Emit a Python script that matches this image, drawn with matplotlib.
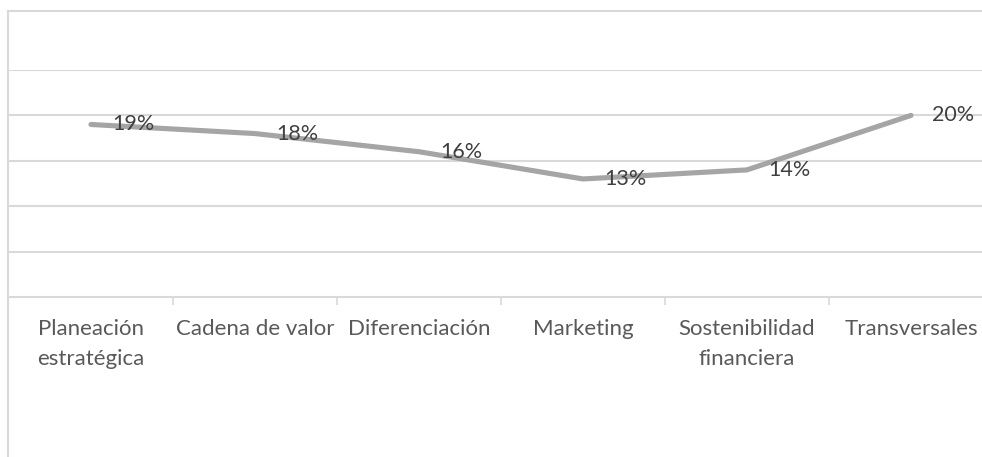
import matplotlib.pyplot as plt
from matplotlib.lines import Line2D

categories = ['Planeación\nestratégica', 'Cadena de valor', 'Diferenciación',
              'Marketing', 'Sostenibilidad\nfinanciera', 'Transversales']
values = [0.19, 0.18, 0.16, 0.13, 0.14, 0.20]
labels = ['19%', '18%', '16%', '13%', '14%', '20%']

W, H = 982, 457
fig = plt.figure(figsize=(W / 100, H / 100), dpi=100)
plt.rcParams['font.family'] = ['Lato', 'DejaVu Sans']

# plot area runs past the right edge of the picture (cropped chart)
x0, x1 = 9, 993
y_top, y_bot = 70, 297
ax = fig.add_axes([x0 / W, 1 - y_bot / H, (x1 - x0) / W, (y_bot - y_top) / H])

xs = list(range(len(categories)))
ax.plot(xs, values, color='#a5a5a5', lw=3.7, solid_capstyle='round', zorder=3)
for x, v, t in zip(xs, values, labels):
    ax.annotate(t, (x, v), xytext=(15, 0), textcoords='offset points',
                ha='left', va='center', fontsize=15.5, color='#404040', zorder=4)

ax.set_xlim(-0.5, len(categories) - 0.5)
ax.set_ylim(0, 0.25)
ax.set_yticks([0.05, 0.10, 0.15, 0.20, 0.25])
ax.yaxis.grid(True, color='#d9d9d9', lw=1.5)
ax.set_axisbelow(True)
ax.tick_params(axis='y', length=0, labelleft=False)

ax.set_xticks(xs)
ax.set_xticklabels(categories, fontsize=16, color='#595959', linespacing=1.6)
ax.tick_params(axis='x', which='major', length=0, pad=16)
ax.set_xticks([i + 0.5 for i in range(len(categories) - 1)], minor=True)
ax.tick_params(axis='x', which='minor', length=6, width=1.2, color='#d9d9d9')

for s in ['top', 'right', 'left']:
    ax.spines[s].set_visible(False)
ax.spines['bottom'].set_color('#d9d9d9')
ax.spines['bottom'].set_linewidth(1.5)

# chart frame (left and top edges)
fig.add_artist(Line2D([8 / W, 8 / W], [0, 1 - 11 / H], color='#d9d9d9', lw=1.5))
fig.add_artist(Line2D([8 / W, 1], [1 - 11 / H, 1 - 11 / H], color='#d9d9d9', lw=1.5))

fig.savefig('out.png', dpi=100)
